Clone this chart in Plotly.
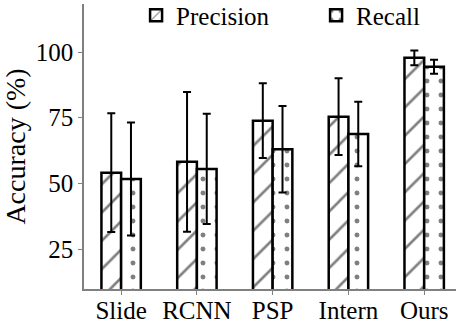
import plotly.graph_objects as go

categories = ["Slide", "RCNN", "PSP", "Intern", "Ours"]
precision = [54.1, 58.2, 73.9, 75.4, 97.8]
precision_err = [22.6, 26.6, 14.2, 14.6, 2.8]
recall = [51.7, 55.5, 63.0, 68.8, 94.4]
recall_err = [21.5, 21.0, 16.5, 12.3, 2.7]
y_ticks = [25, 50, 75, 100]

FONT = "Liberation Serif, Times New Roman, serif"
GREY = "#808080"

fig = go.Figure()
fig.add_trace(go.Bar(
    name="Precision", x=categories, y=precision,
    error_y=dict(type="data", array=precision_err, color="black", thickness=2, width=4),
    marker=dict(color="white", line=dict(color="black", width=2.5),
                pattern=dict(shape="/", fgcolor="black", bgcolor="white", size=20, solidity=0.13)),
))
fig.add_trace(go.Bar(
    name="Recall", x=categories, y=recall,
    error_y=dict(type="data", array=recall_err, color="black", thickness=2, width=4),
    marker=dict(color="white", line=dict(color="black", width=2.5),
                pattern=dict(shape=".", fgcolor="black", bgcolor="white", size=14, solidity=0.1)),
))

fig.update_layout(
    width=456, height=324,
    margin=dict(l=84, r=0, t=4, b=35, autoexpand=False),
    paper_bgcolor="white", plot_bgcolor="white",
    barmode="group", bargap=0.48, bargroupgap=0,
    font=dict(family=FONT, size=25, color="black"),
    showlegend=True,
    legend=dict(orientation="h", x=0.14, y=1.04, xanchor="left", yanchor="top",
                bgcolor="rgba(0,0,0,0)", font=dict(size=25, family=FONT), itemwidth=30,
                entrywidth=135, tracegroupgap=0),
    xaxis=dict(range=[-0.49, 4.42], showline=True, linecolor=GREY, linewidth=1.5,
               ticks="outside", tickcolor=GREY, ticklen=4, showgrid=False,
               tickfont=dict(size=25, family=FONT), automargin=False,
               ticklabelstandoff=-6),
    yaxis=dict(range=[9.8, 118.3], tickvals=y_ticks, showline=True, linecolor=GREY,
               linewidth=1.5, ticks="outside", tickcolor=GREY, ticklen=4,
               showgrid=False, zeroline=False, tickfont=dict(size=25, family=FONT),
               automargin=False,
               title=dict(text="Accuracy (%)", font=dict(size=28, family=FONT), standoff=6)),
)

fig.write_html("out.html", config={"displayModeBar": False},
               post_script="document.body.style.margin='0';")
